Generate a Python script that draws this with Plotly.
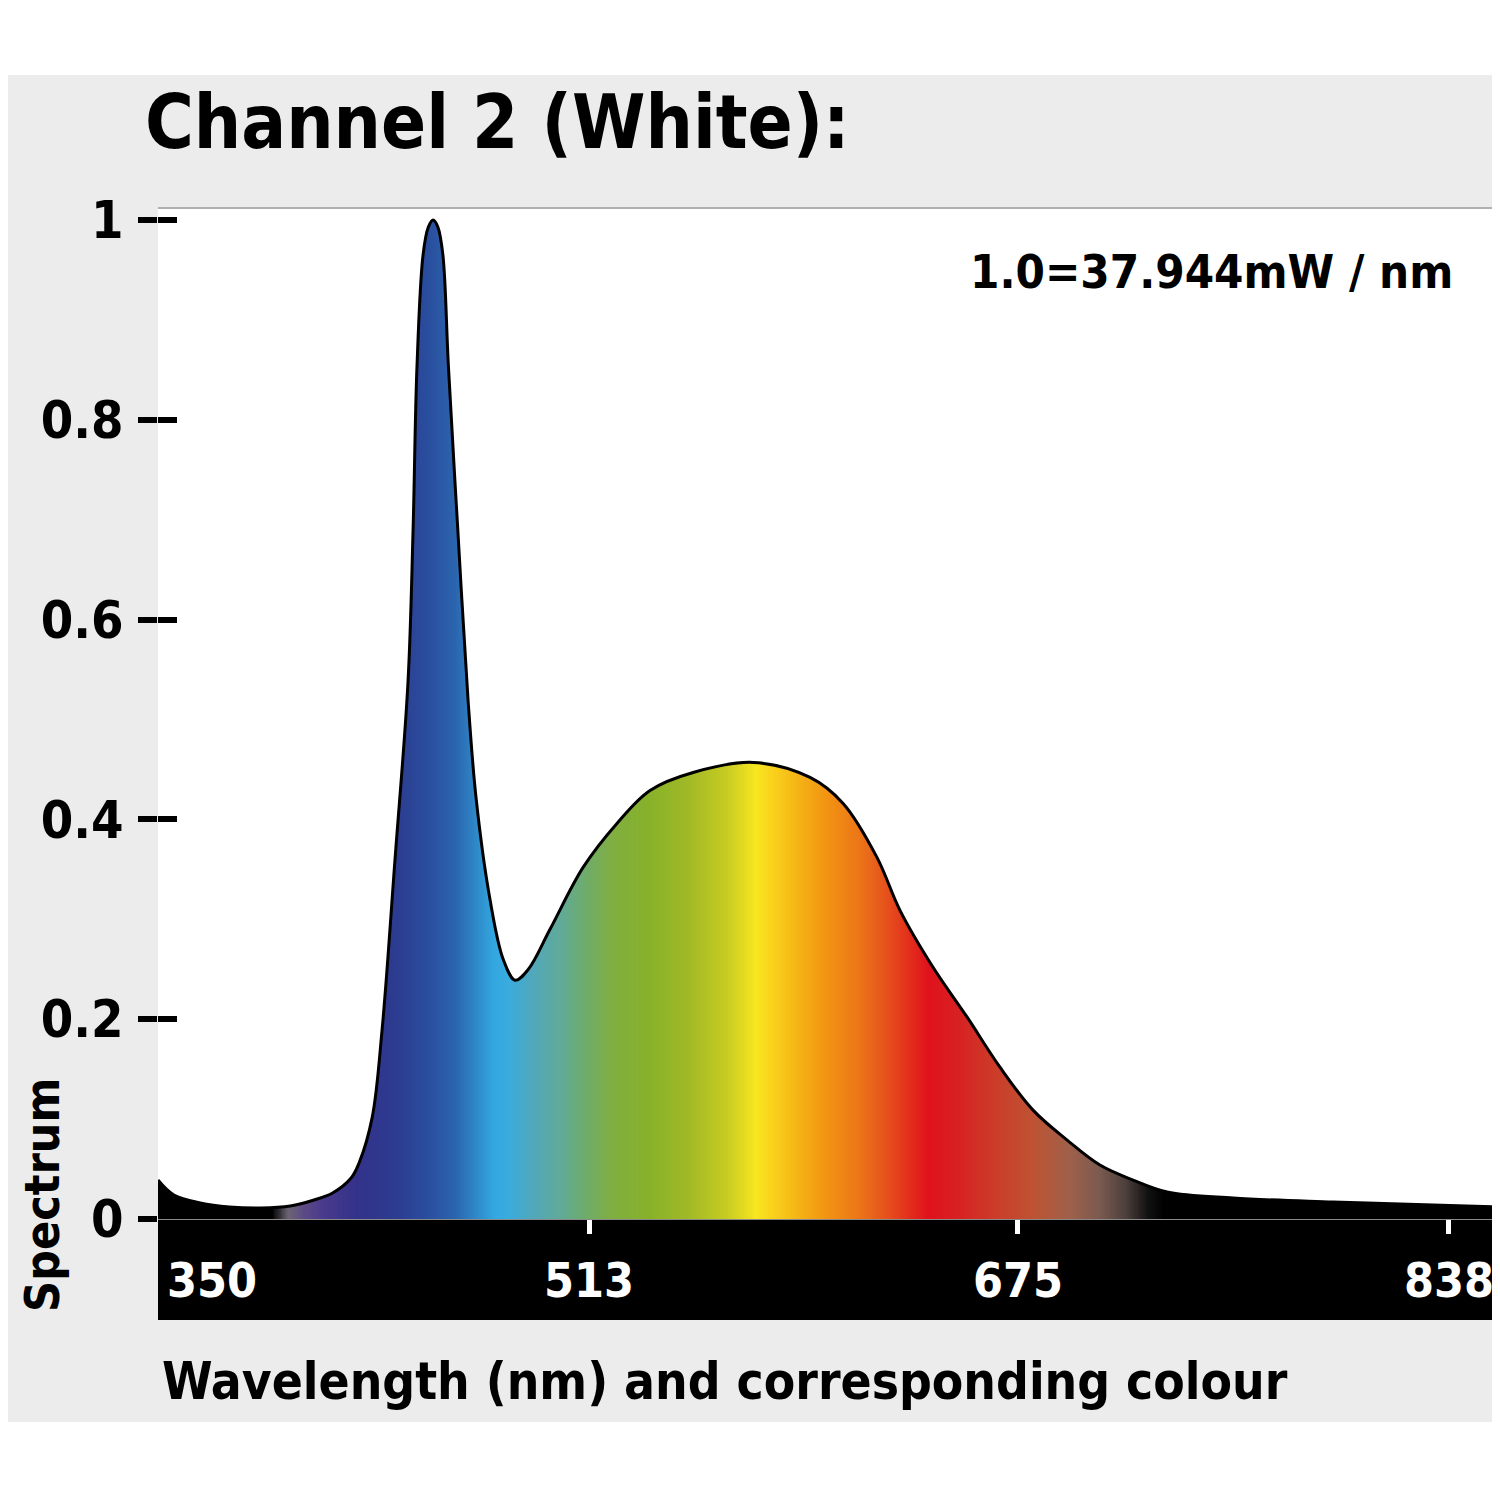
import plotly.graph_objects as go

# spectrum of channel 2 (white), normalised
wavelength = [350, 356, 366, 377, 389, 400, 409, 416, 423, 426, 431, 434.7, 439.6,
              444.5, 446.4, 447.9, 450.2, 452.2, 454, 455.8, 457.7, 459.8, 463.4,
              467.2, 470.3, 475.5, 480.5, 485, 490, 498.2, 510.7, 523.5, 536, 552.3,
              575, 596.5, 609, 621.8, 630.5, 643, 655.9, 668.3, 680.8, 693.7, 706.1,
              718.6, 731.5, 756.4, 794.2, 832, 856.2]
intensity = [0.039, 0.024, 0.016, 0.012, 0.011, 0.013, 0.019, 0.026, 0.041, 0.056,
             0.102, 0.189, 0.36, 0.537, 0.687, 0.853, 0.965, 0.993, 1.0, 0.993, 0.965,
             0.853, 0.687, 0.52, 0.42, 0.32, 0.26, 0.239, 0.25, 0.29, 0.352, 0.396,
             0.429, 0.447, 0.457, 0.442, 0.416, 0.362, 0.309, 0.252, 0.202, 0.152,
             0.109, 0.079, 0.054, 0.039, 0.027, 0.021, 0.017, 0.014, 0.012]

y_ticks = [0, 0.2, 0.4, 0.6, 0.8, 1]
y_ticktext = ["0", "0.2", "0.4", "0.6", "0.8", "1"]
x_ticks = [350, 513, 675, 838]
x_ticktext = ["350", "513", "675", "838"]

# colour that the fill shows at each wavelength
band_nm = [350, 393, 399, 405, 412, 425, 440, 452, 462, 470, 477, 482, 492, 502,
           512, 522, 535, 550, 565, 576, 582, 592, 603, 614, 625, 635, 641, 652,
           665, 680, 694, 706, 716, 724, 730, 856.2]
band_col = ["#000000", "#000000", "#6c6474", "#5c4a86", "#4a3a8c", "#33328a",
            "#2c3c90", "#2a4e9e", "#2b64ae", "#2e88c8", "#33a8e0", "#38abdf",
            "#52a8b8", "#60aa98", "#70ac68", "#80ae40", "#87b12a", "#a0b926",
            "#c8cc22", "#f8e620", "#f9d21c", "#f5b316", "#f29212", "#ec7818",
            "#e6521c", "#e22a1c", "#e0121c", "#d82022", "#cd3a28", "#bf5232",
            "#a0604a", "#7a5a50", "#4a3e3c", "#111111", "#000000", "#000000"]

XMIN, XMAX = 350, 856.2
YMAX = 1.012
FONT = "DejaVu Sans Condensed, Liberation Sans Narrow, DejaVu Sans, sans-serif"

scale = [[(w - XMIN) / (XMAX - XMIN), c] for w, c in zip(band_nm, band_col)]
grid = [XMIN + i for i in range(int(XMAX - XMIN) + 1)]

fig = go.Figure()
fig.add_trace(go.Heatmap(x=grid, y=[0, YMAX], z=[grid, grid], colorscale=scale,
                         zmin=XMIN, zmax=XMAX, showscale=False, zsmooth="best",
                         hoverinfo="skip"))
# white mask above the curve
fig.add_trace(go.Scatter(x=wavelength, y=intensity, mode="lines",
                         line=dict(width=0, shape="spline", smoothing=1.0),
                         hoverinfo="skip", showlegend=False))
fig.add_trace(go.Scatter(x=wavelength, y=[YMAX + 0.05] * len(wavelength), mode="lines",
                         line=dict(width=0), fill="tonexty", fillcolor="white",
                         hoverinfo="skip", showlegend=False))
fig.add_trace(go.Scatter(x=wavelength, y=intensity, mode="lines",
                         line=dict(color="black", width=3, shape="spline", smoothing=1.0),
                         showlegend=False))
# carrier for the inner tick marks
fig.add_trace(go.Scatter(x=[XMIN], y=[0], yaxis="y2", mode="markers",
                         marker=dict(opacity=0), hoverinfo="skip", showlegend=False))

shapes = [
    dict(type="rect", xref="paper", yref="paper", x0=-0.12, x1=1.01, y0=-0.2008, y1=1.1316,
         fillcolor="#ececec", line_width=0, layer="below"),
    dict(type="rect", xref="paper", yref="paper", x0=0, x1=0.9985, y0=0, y1=1,
         fillcolor="white", line_width=0, layer="below"),
    dict(type="rect", xref="paper", yref="paper", x0=0, x1=0.9985, y0=-0.0999, y1=0,
         fillcolor="black", line_width=0, layer="below"),
    dict(type="line", xref="paper", yref="paper", x0=0, x1=1.01, y0=1, y1=1,
         line=dict(color="#b0b0b0", width=2)),
    dict(type="line", xref="paper", yref="paper", x0=0.9985, x1=0.9985, y0=0, y1=1,
         line=dict(color="#e4e4e4", width=1)),
]

annotations = [
    dict(text="<b>Channel 2 (White):</b>", xref="paper", yref="paper", x=-0.0112, y=1.085,
         xanchor="left", yanchor="middle", showarrow=False, font=dict(size=74, color="black")),
    dict(text="<b>1.0=37.944mW / nm</b>", xref="paper", yref="paper", x=0.9686, y=0.9367,
         xanchor="right", yanchor="middle", showarrow=False, font=dict(size=47, color="black")),
    dict(text="<b>Spectrum</b>", xref="paper", yref="paper", x=-0.0866, y=0.0237,
         xanchor="center", yanchor="middle", textangle=-90, showarrow=False,
         font=dict(size=48, color="black")),
    dict(text="<b>Wavelength (nm) and corresponding colour</b>", xref="paper", yref="paper",
         x=0.0015, y=-0.1612, xanchor="left", yanchor="middle", showarrow=False,
         font=dict(size=51, color="black")),
]
for v, t in zip(x_ticks, x_ticktext):
    annotations.append(dict(text="<b>" + t + "</b>", xref="x", yref="paper",
                            x=v + 2.5 if v == XMIN else v, y=-0.0603,
                            xanchor="left" if v == XMIN else "center", yanchor="middle",
                            showarrow=False, font=dict(size=48, color="white")))

# the page body adds 8px on the left and top, so margins are trimmed by that much
fig.update_layout(
    width=1500, height=1500,
    margin=dict(l=150, r=11, t=200, b=289),
    paper_bgcolor="white", plot_bgcolor="white",
    font=dict(family=FONT, color="black"),
    showlegend=False,
    shapes=shapes, annotations=annotations,
    xaxis=dict(range=[XMIN, XMAX], showgrid=False, zeroline=False,
               showline=True, linecolor="#8a8a8a", linewidth=1,
               tickvals=x_ticks[1:], ticks="outside", ticklen=14, tickwidth=5,
               tickcolor="white", showticklabels=False),
    yaxis=dict(range=[0, YMAX], showgrid=False, zeroline=False, showline=False,
               tickvals=y_ticks, ticktext=["<b>" + t + "</b>" for t in y_ticktext],
               ticks="outside", ticklen=19, tickwidth=6, tickcolor="black",
               ticklabelstandoff=4, tickfont=dict(size=52, color="black")),
    yaxis2=dict(range=[0, YMAX], overlaying="y", side="left", showgrid=False,
                zeroline=False, tickvals=y_ticks, ticks="inside", ticklen=19,
                tickwidth=6, tickcolor="black", showticklabels=False),
)

fig.write_html("out.html")
